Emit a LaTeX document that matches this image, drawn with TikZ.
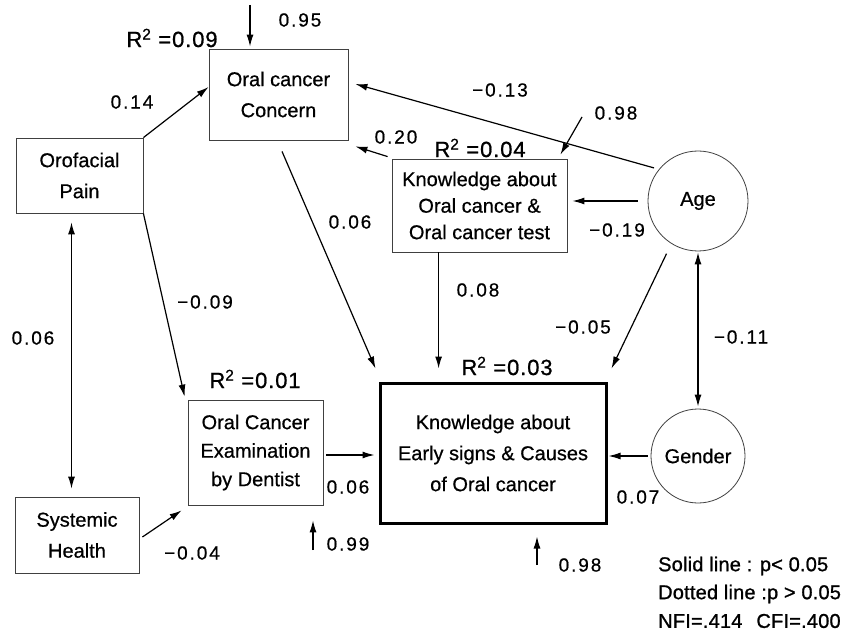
\documentclass[tikz,border=0pt]{standalone}
\usepackage{fontspec}
\setmainfont[FakeBold=0.6]{Liberation Sans}
\newfontfamily\lblfont[LetterSpace=10,FakeBold=0.6]{Liberation Sans}
\newfontfamily\legfont[LetterSpace=1,FakeBold=1]{Liberation Sans}
\newfontfamily\rsqfont[LetterSpace=4,FakeBold=0.8]{Liberation Sans}
\usetikzlibrary{arrows.meta,calc}
\begin{document}
\begin{tikzpicture}[x=1pt,y=-1pt,
  box/.style={draw=black!75, line width=0.8pt, rectangle, inner sep=0pt, align=center,
    font=\fontsize{20}{31}\selectfont},
  circ/.style={draw=black!75, line width=0.8pt, circle, inner sep=0pt,
    font=\fontsize{20}{24}\selectfont},
  arr/.style={-{Latex[length=12pt,width=7pt]}, line width=1.2pt},
  dbl/.style={{Latex[length=12pt,width=7pt]}-{Latex[length=12pt,width=7pt]}, line width=1.2pt},
  lbl/.style={inner sep=0pt, font=\lblfont\fontsize{19}{20}\selectfont},
  rsq/.style={inner sep=0pt, font=\rsqfont\fontsize{22}{24}\selectfont},
  leg/.style={inner sep=0pt, anchor=west, font=\legfont\fontsize{20}{24}\selectfont}
]
\useasboundingbox (0,0) rectangle (859,636);

% nodes
\node[box, minimum width=139pt, minimum height=91pt] (concern) at (278.5,94.5) {Oral cancer\\Concern};
\node[box, minimum width=127pt, minimum height=75pt] (orofacial) at (79.5,175.5) {Orofacial\\Pain};
\node[box, minimum width=175pt, minimum height=93pt, font=\fontsize{20}{26.5}\selectfont] (knowoc) at (479.5,205.5) {Knowledge about\\Oral cancer \&\\Oral cancer test};
\node[circ, minimum size=100pt] (age) at (698,201) {Age};
\node[circ, minimum size=94pt] (gender) at (698,456) {Gender};
\node[box, draw=black, line width=3pt, minimum width=226pt, minimum height=140pt] (big) at (493,453) {Knowledge about\\Early signs \& Causes\\of Oral cancer};
\node[box, minimum width=135pt, minimum height=105pt, font=\fontsize{20}{28.5}\selectfont] (exam) at (255.5,452.5) {Oral Cancer\\Examination\\by Dentist};
\node[box, minimum width=124pt, minimum height=76pt] (systemic) at (77,535) {Systemic\\Health};

% free ends
\coordinate (e95) at (250,5);
\coordinate (e98) at (582,117);
\coordinate (e98b) at (537,565);
\coordinate (e99) at (313,550);
\coordinate (x6) at ($(exam.east)+(3,2.5)$);
\coordinate (k8) at ($(knowoc.south west)+(47,0)$);
\coordinate (o6) at ($(orofacial.south)+(-8,0)$);

% connectors
\draw[arr, shorten >=2pt] (e95) -- (e95 |- concern.north);
\draw[arr] (orofacial.north east) -- ($(concern.west)+(0,-7.5)$);
\draw[arr, shorten <=5pt] (age.141) -- ($(concern.east)+(7,-10.5)$);
\draw[arr] ($(knowoc.north west)+(-4,-2)$) -- ($(concern.south east)+(7,6)$);
\draw[arr] (e98) -- ($(knowoc.north east)+(-7,-4)$);
\draw[arr, shorten <=10pt, shorten >=5pt] (age.west) -- (age.west -| knowoc.east);
\draw[arr] ($(concern.south)+(3.5,11)$) -- ($(big.north west)+(-3,-13)$);
\draw[arr, shorten >=13pt] (k8) -- (k8 |- big.north);
\draw[arr, shorten <=11pt] (age.238) -- ($(big.north east)+(4,-13)$);
\draw[dbl, shorten <=1pt, shorten >=2pt] (age.south) -- (gender.north);
\draw[arr, shorten <=3pt, shorten >=1pt] (gender.west) -- (gender.west -| big.east);
\draw[arr, shorten >=12pt] (e98b) -- (e98b |- big.south);
\draw[arr, shorten >=4pt] (x6) -- (x6 -| big.west);
\draw[arr, shorten >=15pt] (e99) -- (e99 |- exam.south);
\draw[arr] (orofacial.south east) -- ($(exam.north west)+(-3,-3)$);
\draw[dbl, shorten <=9pt, shorten >=8pt] (o6) -- (o6 |- systemic.north);
\draw[arr] ($(systemic.east)+(3,2)$) -- ($(exam.south west)+(-6,5)$);

% labels
\node[rsq] (r1) at (172,38) {R\textsuperscript{2} =0.09};
\node[rsq] (r2) at (480,148) {R\textsuperscript{2} =0.04};
\node[rsq] (r3) at (507,366) {R\textsuperscript{2} =0.03};
\node[rsq] (r4) at (255,379) {R\textsuperscript{2} =0.01};
\node[lbl] (l1) at (300,20) {0.95};
\node[lbl] (l2) at (132,102) {0.14};
\node[lbl] (l3) at (500,90) {−0.13};
\node[lbl] (l4) at (616,113) {0.98};
\node[lbl] (l5) at (396,137) {0.20};
\node[lbl] (l6) at (617,230) {−0.19};
\node[lbl] (l7) at (350,222) {0.06};
\node[lbl] (l8) at (478,290) {0.08};
\node[lbl] (l9) at (583,327) {−0.05};
\node[lbl] (l10) at (741,337) {−0.11};
\node[lbl] (l11) at (638,497) {0.07};
\node[lbl] (l12) at (580,565) {0.98};
\node[lbl] (l13) at (205,302) {−0.09};
\node[lbl] (l14) at (33,338) {0.06};
\node[lbl] (l15) at (348,487) {0.06};
\node[lbl] (l16) at (348,544) {0.99};
\node[lbl] (l17) at (192,553) {−0.04};

% legend
\node[leg] (g1) at (658,566) {Solid line : p< 0.05};
\node[leg] (g2) at (658,594) {Dotted line :p > 0.05};
\node[leg] (g3) at (658,621) {NFI=.414\hspace{14pt}CFI=.400};
\end{tikzpicture}
\end{document}
